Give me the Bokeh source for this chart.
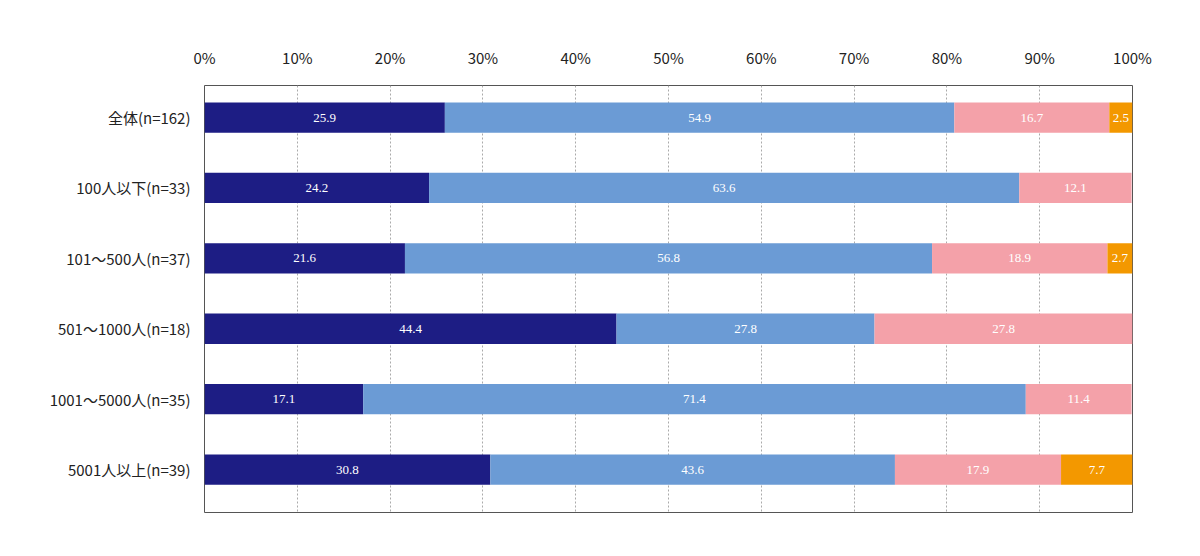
from bokeh.plotting import figure
from bokeh.models import ColumnDataSource, Range1d, FixedTicker, LabelSet, Label
from bokeh.embed import file_html
from bokeh.resources import INLINE

categories = ["全体(n=162)", "100人以下(n=33)", "101～500人(n=37)", "501～1000人(n=18)", "1001～5000人(n=35)", "5001人以上(n=39)"]
series = ["満足", "やや満足", "やや不満", "不満"]
manzoku = [25.9, 24.2, 21.6, 44.4, 17.1, 30.8]
yaya_manzoku = [54.9, 63.6, 56.8, 27.8, 71.4, 43.6]
yaya_fuman = [16.7, 12.1, 18.9, 27.8, 11.4, 17.9]
fuman = [2.5, 0.0, 2.7, 0.0, 0.0, 7.7]
colors = ["#1d1d84", "#6b9bd5", "#f4a1a9", "#f39800"]
legend_x = [0.5, 8.4, 19.5, 31.3]
FONT = "Noto Sans CJK JP"

vals = [manzoku, yaya_manzoku, yaya_fuman, fuman]
ys = list(range(len(categories)))
p = figure(width=1184, height=540, output_backend="svg", toolbar_location=None,
           x_range=Range1d(0, 100), y_range=Range1d(5.61, -0.455),
           x_axis_location="above", min_border_left=204, min_border_right=52,
           min_border_bottom=28, min_border_top=85)
p.outline_line_color = "#555555"

lx, ly, lt, zx, zy = [], [], [], [], []
for i, s in enumerate(series):
    left = [sum(v[j] for v in vals[:i]) for j in ys]
    right = [left[j] + vals[i][j] for j in ys]
    src = ColumnDataSource(dict(y=ys, left=left, right=right))
    p.hbar(y="y", left="left", right="right", height=0.43, source=src,
           fill_color=colors[i], line_color=None)
    for j in ys:
        if vals[i][j] > 0:
            lx.append((left[j] + right[j]) / 2); ly.append(j); lt.append(f"{vals[i][j]:.1f}")
        else:
            zx.append(100); zy.append(j)
    p.add_layout(Label(x=legend_x[i], y=-1.28, text="■", text_color=colors[i], text_font_size="15px",
                       text_baseline="middle", text_align="left"))
    p.add_layout(Label(x=legend_x[i] + 1.6, y=-1.28, text=s, text_color="#222222", text_font=FONT,
                       text_font_size="14px", text_baseline="middle", text_align="left"))

p.add_layout(LabelSet(x="x", y="y", text="t", source=ColumnDataSource(dict(x=lx, y=ly, t=lt)),
                      text_color="white", text_align="center", text_baseline="middle",
                      text_font_size="13px", text_font=FONT))
p.add_layout(LabelSet(x="x", y="y", text="t", source=ColumnDataSource(dict(x=zx, y=zy, t=["0.0"] * len(zx))),
                      text_color="#222222", x_offset=8, text_align="left", text_baseline="middle",
                      text_font_size="13px", text_font=FONT))

xa = p.xaxis[0]
xa.ticker = FixedTicker(ticks=list(range(0, 101, 10)))
xa.major_label_overrides = {t: f"{t}%" for t in range(0, 101, 10)}
xa.major_label_text_font = FONT
xa.major_label_text_font_size = "15px"
xa.major_label_text_color = "#222222"
xa.axis_line_color = None
xa.major_tick_line_color = None
xa.minor_tick_line_color = None
xa.major_label_standoff = 12

ya = p.yaxis[0]
ya.ticker = FixedTicker(ticks=ys)
ya.major_label_overrides = {j: c for j, c in enumerate(categories)}
ya.major_label_text_font = FONT
ya.major_label_text_font_size = "15px"
ya.major_label_text_color = "#222222"
ya.axis_line_color = None
ya.major_tick_line_color = None
ya.minor_tick_line_color = None
ya.major_label_standoff = 8

p.xgrid.grid_line_color = "#aaaaaa"
p.xgrid.grid_line_dash = "2 2"
p.ygrid.grid_line_color = None

open("out.html", "w").write(file_html(p, INLINE))
